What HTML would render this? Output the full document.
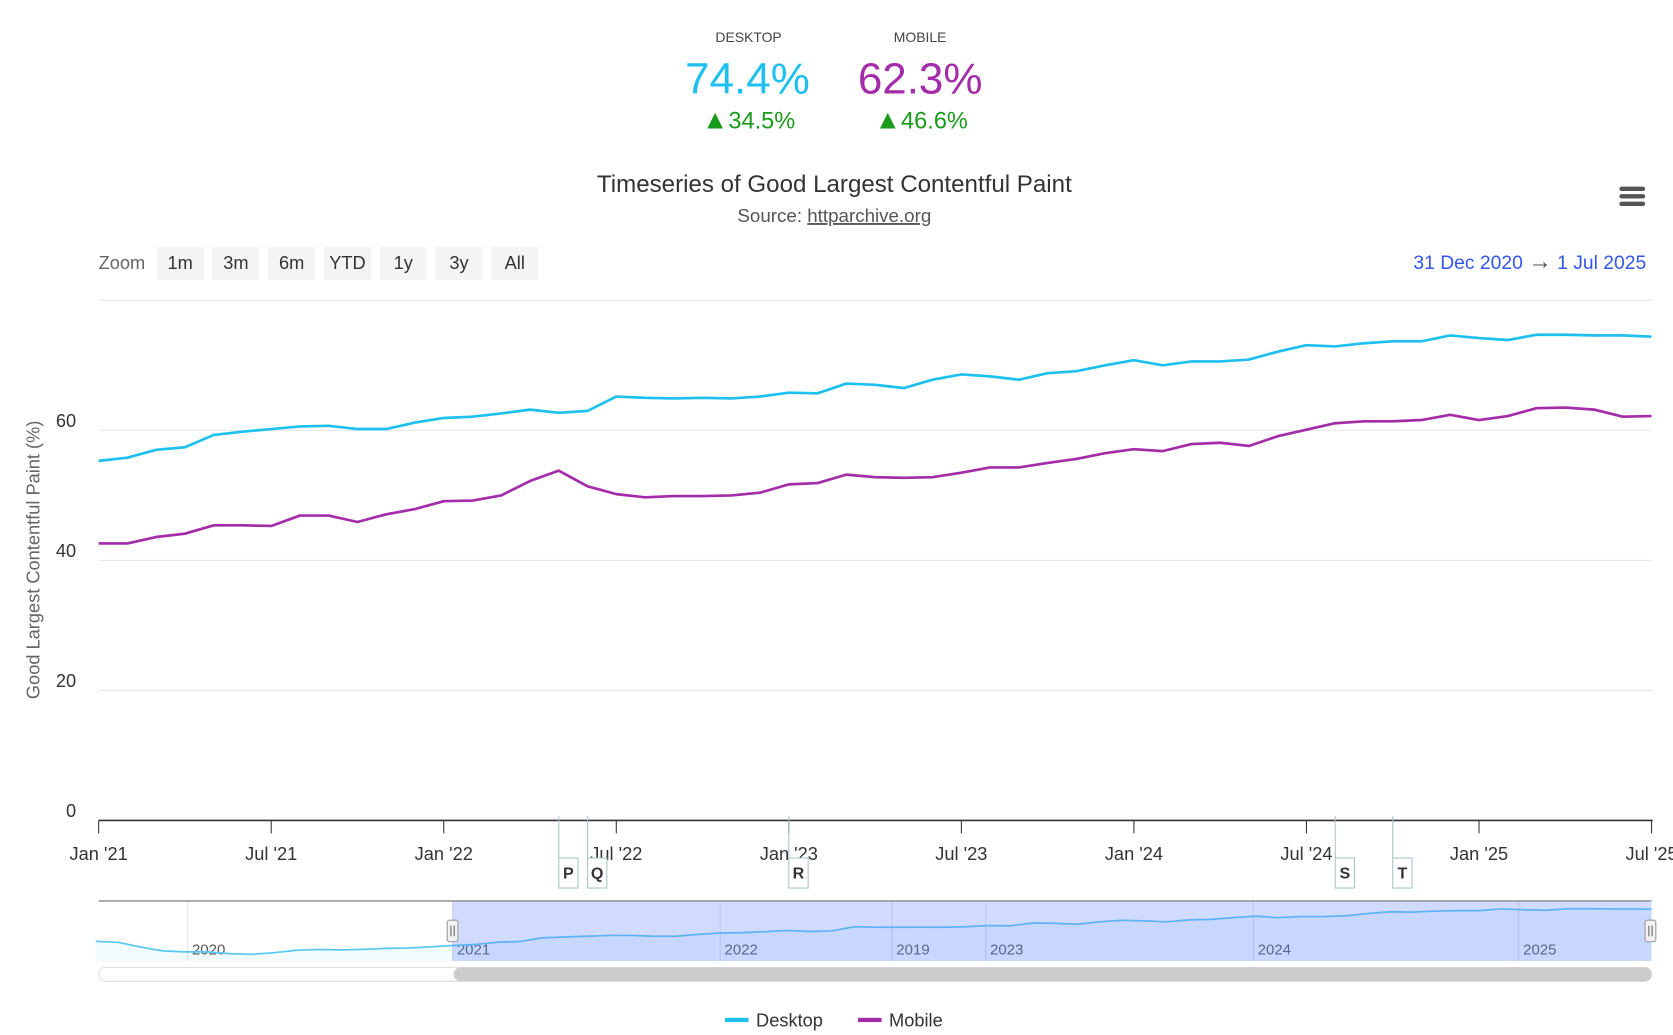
<!DOCTYPE html>
<html><head><meta charset="utf-8">
<style>
html,body{margin:0;padding:0;background:#fff;}
svg{display:block;font-family:"Liberation Sans",sans-serif;}
</style></head>
<body>
<svg id="chart" width="1673" height="1035" viewBox="0 0 1560 965" xmlns="http://www.w3.org/2000/svg">
  <g>
    <text x="698" y="39" text-anchor="middle" font-size="13" fill="#444">DESKTOP</text>
    <text x="697" y="87" text-anchor="middle" font-size="41" fill="#1ec0ef">74.4%</text>
    <text x="698" y="120" text-anchor="middle" font-size="22" fill="#1a9a1a"><tspan font-size="25">▲</tspan>34.5%</text>
    <text x="858" y="39" text-anchor="middle" font-size="13" fill="#444">MOBILE</text>
    <text x="858" y="87" text-anchor="middle" font-size="41" fill="#a32ca8">62.3%</text>
    <text x="859" y="120" text-anchor="middle" font-size="22" fill="#1a9a1a"><tspan font-size="25">▲</tspan>46.6%</text>
  </g>
  <text x="778" y="179" text-anchor="middle" font-size="22.5" fill="#333">Timeseries of Good Largest Contentful Paint</text>
  <text x="778" y="207" text-anchor="middle" font-size="17.5" fill="#555">Source: <tspan text-decoration="underline">httparchive.org</tspan></text>
  <g>
    <rect x="1510" y="174" width="24" height="4" rx="2" fill="#555"/>
    <rect x="1510" y="181" width="24" height="4" rx="2" fill="#555"/>
    <rect x="1510" y="188" width="24" height="4" rx="2" fill="#555"/>
  </g>
  <text x="92" y="251" font-size="17" fill="#666">Zoom</text>
  <g id="zoomBtns"></g>
  <text x="1535" y="251" text-anchor="end" font-size="18" fill="#3355ee">31 Dec 2020 <tspan fill="#555" font-size="22">→</tspan> 1 Jul 2025</text>
  <text transform="translate(37,522) rotate(-90)" text-anchor="middle" font-size="17" fill="#666">Good Largest Contentful Paint (%)</text>
  <g id="grid"></g>
  <g id="series"></g>
  <g id="xaxis"></g>
  <g id="flags"></g>
  <g id="nav"></g>
  <g>
    <g>
      <rect x="676" y="949" width="22" height="4" fill="#1ec0ef"/>
      <text x="705" y="957" font-size="17" fill="#333">Desktop</text>
    </g>
    <g>
      <rect x="800" y="949" width="22" height="4" fill="#a32ca8"/>
      <text x="829" y="957" font-size="17" fill="#333">Mobile</text>
    </g>
  </g>
</svg>
<script>
const desktop=[55.3,55.8,57.0,57.4,59.3,59.8,60.2,60.6,60.7,60.2,60.2,61.2,61.9,62.1,62.6,63.2,62.7,63.0,65.2,65.0,64.9,65.0,64.9,65.2,65.8,65.7,67.2,67.0,66.5,67.8,68.6,68.3,67.8,68.8,69.1,70.0,70.8,70.0,70.6,70.6,70.9,72.1,73.1,72.9,73.4,73.7,73.7,74.6,74.2,73.9,74.7,74.7,74.6,74.6,74.4];
const mobile=[42.6,42.6,43.6,44.1,45.4,45.4,45.3,46.9,46.9,45.9,47.1,47.9,49.1,49.2,50.0,52.2,53.8,51.4,50.2,49.7,49.9,49.9,50.0,50.4,51.7,51.9,53.2,52.8,52.7,52.8,53.5,54.3,54.3,55.0,55.6,56.5,57.1,56.8,57.9,58.1,57.6,59.1,60.1,61.1,61.4,61.4,61.6,62.4,61.6,62.2,63.4,63.5,63.2,62.1,62.2];
const navPre=[57.5,57.0,54.5,52.5,52.0,52.0,51.0,50.7,51.5,52.8,53.2,53.0,53.3,53.8,54.0,54.6];
const yTicks=[0,20,40,60,80];
const xTickLabels=["Jan '21","Jul '21","Jan '22","Jul '22","Jan '23","Jul '23","Jan '24","Jul '24","Jan '25","Jul '25"];
const flagLabels=["P","Q","R","S","T"];
const flagMonths=[16,17,24,43,45];
const navYearLabels=["2020","2021","2022","2019","2023","2024","2025"];
const navYearMonths=[-12.5,0,12,19.7,23.9,35.9,47.8];
const zoomLabels=["1m","3m","6m","YTD","1y","3y","All"];

const NS="http://www.w3.org/2000/svg";
function mk(tag,attrs,parent){const e=document.createElementNS(NS,tag);for(const k in attrs)e.setAttribute(k,attrs[k]);parent.appendChild(e);return e;}
const L=92,R=1540,T=280,B=765,Y0=0,Y1=80;
const nMonths=desktop.length-1;
const xs=i=>L+(R-L)*i/nMonths;
const ys=v=>B-(B-T)*(v-Y0)/(Y1-Y0);

const zb=document.getElementById('zoomBtns');
zoomLabels.forEach((t,i)=>{
  const g=mk('g',{},zb);
  
  
  const x=146+52*i;
  mk('rect',{x:x,y:230,width:44,height:31,fill:'#f4f4f4'},g);
  const tx=mk('text',{x:x+22,y:251,'text-anchor':'middle','font-size':17,fill:'#333'},g);
  tx.textContent=t;
});

const grid=document.getElementById('grid');
yTicks.forEach(v=>{
  const y=ys(v);
  if(v>0){const ln=mk('line',{x1:L,x2:R,y1:y,y2:y,stroke:'#e6e6e6','stroke-width':1},grid);
  
  }
  if(v<80){const t=mk('text',{x:71,y:y-3,'text-anchor':'end','font-size':17,fill:'#333'},grid);
  
  
  t.textContent=v;}
});

const sg=document.getElementById('series');
function line(data,color,name){
  const d=data.map((v,i)=>(i?'L':'M')+xs(i).toFixed(1)+','+ys(v).toFixed(1)).join(' ');
  const p=mk('path',{d:d,fill:'none',stroke:color,'stroke-width':2.5,'stroke-linejoin':'round'},sg);
  
  
}
line(desktop,'#1ec0ef','desktop-line');
line(mobile,'#a32ca8','mobile-line');

const xa=document.getElementById('xaxis');
const axl=mk('line',{x1:L,x2:R+1,y1:B,y2:B,stroke:'#333','stroke-width':1.5},xa);


xTickLabels.forEach((t,i)=>{
  const x=xs(i*6);
  mk('line',{x1:x,x2:x,y1:B,y2:B+12,stroke:'#333','stroke-width':1},xa);
  const tx=mk('text',{x:x,y:802,'text-anchor':'middle','font-size':17,fill:'#333'},xa);
  
  
  tx.textContent=t;
});

const fg=document.getElementById('flags');
flagLabels.forEach((t,i)=>{
  const x=xs(flagMonths[i]);
  const g=mk('g',{},fg);
  
  
  mk('line',{x1:x,x2:x,y1:B-4,y2:800,stroke:'#a6c6c6','stroke-width':1},g);
  mk('rect',{x:x,y:800,width:18,height:28,fill:'#fff',stroke:'#a6c6c6','stroke-width':1},g);
  const tx=mk('text',{x:x+9,y:819,'text-anchor':'middle','font-size':15,'font-weight':'bold',fill:'#333'},g);
  tx.textContent=t;
});

const ng=document.getElementById('nav');
const NT=840,NB=896;
const navData=navPre.concat(desktop);
const navOff=navPre.length;
const nmin=50,nmax=76;
const nx=m=>422+20.8*m;
const ny=v=>NB-5-(NB-NT-10)*(v-nmin)/(nmax-nmin);
const nbg=mk('rect',{x:L,y:NT,width:R-L,height:NB-NT,fill:'#fff'},ng);


navYearMonths.forEach((m,i)=>{
  const gx=(navYearLabels[i]==="2020")?175:nx(m);
  mk('line',{x1:gx,x2:gx,y1:NT,y2:NB,stroke:'#e2e2e2','stroke-width':1},ng);
  const tx=mk('text',{x:gx+4,y:890,'font-size':14,fill:'#555'},ng);
  
  
  tx.textContent=navYearLabels[i];
});
const nd=navData.map((v,i)=>(i?'L':'M')+Math.min(nx(i-navOff),R).toFixed(1)+','+ny(v).toFixed(1)).join(' ');
mk('path',{d:nd+' L'+R+','+NB+' L'+nx(-navOff)+','+NB+' Z',fill:'rgba(30,192,239,0.06)',stroke:'none'},ng);
const np=mk('path',{d:nd,fill:'none',stroke:'#5bc8f0','stroke-width':1.6},ng);


const sel=mk('rect',{x:422,y:NT,width:R-422,height:NB-NT,fill:'rgba(102,133,255,0.3)'},ng);


mk('line',{x1:L,x2:R,y1:NT,y2:NT,stroke:'#999','stroke-width':1.5},ng);
[422,1539].forEach((x,i)=>{
  const h=mk('rect',{x:x-5,y:858,width:10,height:20,rx:2,fill:'#f2f2f2',stroke:'#999'},ng);
  
  
  mk('line',{x1:x-1.5,x2:x-1.5,y1:863,y2:873,stroke:'#666'},ng);
  mk('line',{x1:x+1.5,x2:x+1.5,y1:863,y2:873,stroke:'#666'},ng);
});
const st=mk('rect',{x:L,y:902,width:R-L,height:13,rx:6.5,fill:'#fff',stroke:'#ddd'},ng);


const sth=mk('rect',{x:423,y:902,width:R-423,height:13,rx:6.5,fill:'#cccccc'},ng);


</script>
</body></html>
